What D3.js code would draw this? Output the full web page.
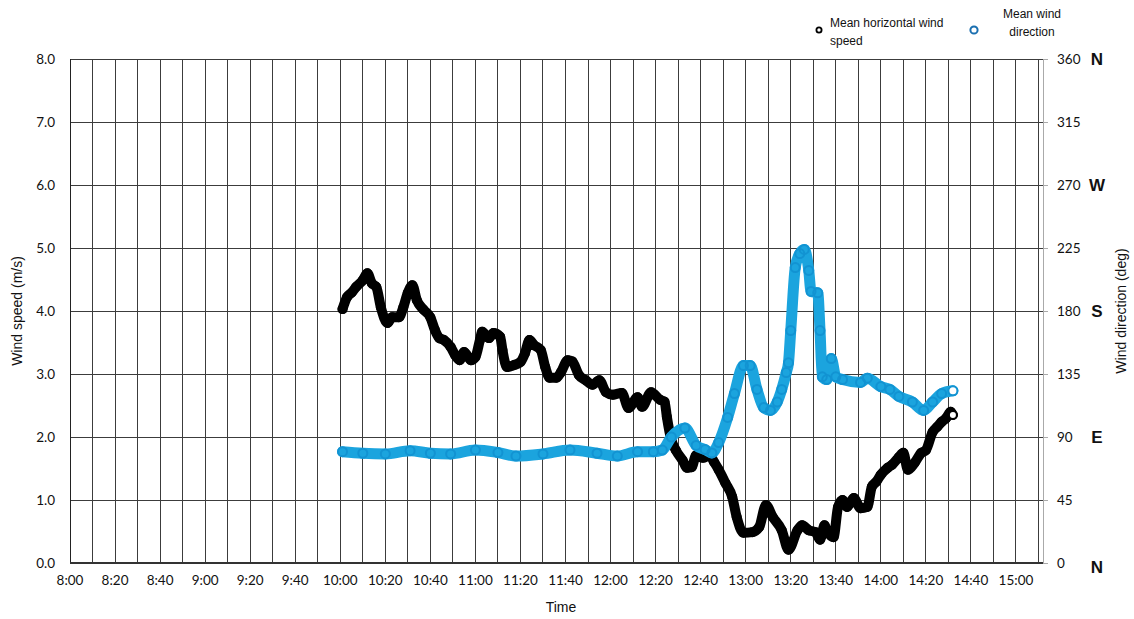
<!DOCTYPE html>
<html>
<head>
<meta charset="utf-8">
<script src="https://cdn.jsdelivr.net/npm/d3@7"></script>
<style>
  html, body { margin: 0; padding: 0; background: #fff; }
  svg { display: block; }
  .tick-lbl { font-family: Lato, "Open Sans", sans-serif; font-size: 13.5px; fill: #111; }
  .title { font-family: "Liberation Sans", Arial, sans-serif; font-size: 14px; fill: #111; }
  .legend { font-family: "Liberation Sans", Arial, sans-serif; font-size: 12px; fill: #111; }
  .compass { font-family: "Liberation Sans", Arial, sans-serif; font-size: 17px; font-weight: bold; fill: #111; }
</style>
</head>
<body>
<svg id="chart" width="1134" height="619"></svg>
<script>
// Mean horizontal wind speed (m/s)
const speedTimes = ["10:01","10:03","10:05","10:07","10:10","10:12","10:14","10:16","10:18","10:21",
  "10:23","10:26","10:28","10:30","10:32","10:34","10:37","10:40","10:42","10:44",
  "10:46","10:49","10:51","10:53","10:55","10:58","11:00","11:02","11:03","11:06",
  "11:08","11:11","11:12","11:14","11:17","11:20","11:22","11:24","11:26","11:29",
  "11:31","11:33","11:36","11:38","11:41","11:43","11:46","11:49","11:52","11:55",
  "11:58","12:01","12:05","12:08","12:12","12:14","12:18","12:22","12:24","12:25",
  "12:27","12:29","12:32","12:34","12:36","12:38","12:41","12:44","12:46","12:48",
  "12:51","12:54","12:56","12:59","13:03","13:06","13:09","13:12","13:16","13:19",
  "13:23","13:25","13:28","13:31","13:33","13:35","13:36","13:39","13:41","13:43",
  "13:45","13:48","13:51","13:54","13:56","13:58","14:00","14:03","14:05","14:08",
  "14:10","14:12","14:15","14:18","14:20","14:23","14:25","14:27","14:29","14:31","14:32"];
const speedValues = [4.03,4.22,4.29,4.38,4.49,4.60,4.44,4.38,4.06,3.81,
  3.90,3.90,4.06,4.29,4.41,4.17,4.02,3.90,3.70,3.57,
  3.54,3.43,3.30,3.22,3.35,3.22,3.27,3.54,3.67,3.57,
  3.65,3.59,3.38,3.11,3.14,3.19,3.33,3.54,3.46,3.38,
  3.11,2.94,2.94,3.03,3.22,3.20,2.98,2.90,2.83,2.90,
  2.71,2.67,2.70,2.46,2.63,2.48,2.71,2.59,2.56,2.32,
  1.95,1.79,1.63,1.51,1.52,1.71,1.67,1.71,1.60,1.48,
  1.27,1.05,0.73,0.48,0.49,0.57,0.92,0.73,0.52,0.21,
  0.52,0.60,0.52,0.49,0.37,0.60,0.52,0.41,0.89,1.00,
  0.89,1.03,0.87,0.89,1.21,1.29,1.40,1.51,1.56,1.68,
  1.75,1.48,1.59,1.75,1.79,2.08,2.16,2.24,2.30,2.40,2.35];

// Mean wind direction (deg)
const dirTimes = ["10:01","10:10","10:20","10:31","10:40","10:49","11:00","11:10","11:18","11:30",
  "11:42","11:54","12:03","12:12","12:19","12:23","12:27","12:33","12:38","12:42",
  "12:45","12:48","12:52","12:55","12:59","13:02","13:05","13:08","13:11","13:14",
  "13:16","13:18","13:19","13:20","13:22","13:24","13:26","13:28","13:29","13:32",
  "13:33","13:34","13:36","13:38","13:40","13:43","13:51","13:54","14:00","14:04",
  "14:08","14:14","14:19","14:23","14:27","14:32"];
const dirValues = [79.5,78.4,77.9,80.2,78.4,77.9,80.7,78.9,76.4,77.9,
  80.7,78.4,76.4,79.5,79.5,80.7,90,96.4,84,81,
  78.6,86,104,121,141,141,124,111,109,115,
  124,136,143,166,211,221,224,209,194,193,
  166,133,131,146,133,131,129,132,126,124,
  119,115,109,115,121,123];

// Axis ticks
const speedTicks = [0,1,2,3,4,5,6,7,8];
const dirTicks = [0,45,90,135,180,225,270,315,360];
const compassLabels = [[0,"N"],[90,"E"],[180,"S"],[270,"W"],[360,"N"]];
const timeLabels = ["8:00","8:20","8:40","9:00","9:20","9:40","10:00","10:20","10:40","11:00",
  "11:20","11:40","12:00","12:20","12:40","13:00","13:20","13:40","14:00","14:20","14:40","15:00"];

const parseT = s => { const [h, m] = s.split(":").map(Number); return new Date(2000, 0, 1, h, m); };

const svg = d3.select("#chart");
const L = 70, R = 1043, T = 59, B = 563;

const x = d3.scaleTime().domain([parseT("8:00"), parseT("15:12")]).range([L, R]);
const yS = d3.scaleLinear().domain([0, 8]).range([B, T]);
const yD = d3.scaleLinear().domain([0, 360]).range([B, T]);

// Grid: vertical line every 10 minutes, horizontal line every 1 m/s
const grid = svg.append("g").attr("shape-rendering", "crispEdges");
const vLines = d3.timeMinute.every(10).range(parseT("8:10"), parseT("15:11"));
grid.selectAll("line.v").data(vLines).join("line")
  .attr("x1", d => x(d)).attr("x2", d => x(d))
  .attr("y1", T).attr("y2", B)
  .attr("stroke", "#3c3c3c").attr("stroke-width", 1);
grid.selectAll("line.h").data(speedTicks.slice(1)).join("line")
  .attr("x1", L).attr("x2", R)
  .attr("y1", d => yS(d)).attr("y2", d => yS(d))
  .attr("stroke", "#3c3c3c").attr("stroke-width", 1);
// Right axis outward ticks
grid.selectAll("line.rt").data(dirTicks).join("line")
  .attr("x1", R).attr("x2", R + 5)
  .attr("y1", d => yD(d)).attr("y2", d => yD(d))
  .attr("stroke", "#aaa").attr("stroke-width", 1);
// Frame
grid.append("line").attr("x1", R).attr("x2", R).attr("y1", T).attr("y2", B).attr("stroke", "#aaa");
grid.append("line").attr("x1", L).attr("x2", L).attr("y1", T).attr("y2", B).attr("stroke", "#222");
grid.append("line").attr("x1", L).attr("x2", R).attr("y1", B).attr("y2", B).attr("stroke", "#333").attr("stroke-width", 1.5);

// Left tick labels
svg.append("g").selectAll("text").data(speedTicks).join("text")
  .attr("class", "tick-lbl")
  .attr("x", 55).attr("y", d => yS(d)).attr("dy", "0.35em")
  .attr("text-anchor", "end")
  .text(d => d.toFixed(1));

// Right tick labels
svg.append("g").selectAll("text").data(dirTicks).join("text")
  .attr("class", "tick-lbl")
  .attr("x", 1057).attr("y", d => yD(d)).attr("dy", "0.35em")
  .text(d => d);
svg.append("g").selectAll("text").data(compassLabels).join("text")
  .attr("class", "compass")
  .attr("x", 1097).attr("y", d => yD(d[0]) + (d[0] === 0 ? 4 : 0)).attr("dy", "0.36em")
  .attr("text-anchor", "middle")
  .text(d => d[1]);

// Bottom tick labels
svg.append("g").selectAll("text").data(timeLabels).join("text")
  .attr("class", "tick-lbl")
  .attr("x", d => x(parseT(d))).attr("y", 585)
  .attr("text-anchor", "middle")
  .text(d => d);

// Axis titles
svg.append("text").attr("class", "title")
  .attr("transform", `translate(22,${(T + B) / 2}) rotate(-90)`)
  .attr("text-anchor", "middle").text("Wind speed (m/s)");
svg.append("text").attr("class", "title")
  .attr("transform", `translate(1126,${(T + B) / 2}) rotate(-90)`)
  .attr("text-anchor", "middle").text("Wind direction (deg)");
svg.append("text").attr("class", "title")
  .attr("x", 561).attr("y", 612).attr("text-anchor", "middle").text("Time");

// Series
const speedData = speedTimes.map((t, i) => ({ t: parseT(t), v: speedValues[i] }));
const dirData = dirTimes.map((t, i) => ({ t: parseT(t), v: dirValues[i] }));

function drawSeries(data, yScale, lineColor, markColor, width) {
  const g = svg.append("g");
  const line = d3.line().x(d => x(d.t)).y(d => yScale(d.v)).curve(d3.curveMonotoneX);
  g.append("path").datum(data).attr("d", line)
    .attr("fill", "none").attr("stroke", lineColor)
    .attr("stroke-width", width).attr("stroke-linejoin", "round").attr("stroke-linecap", "round");
  g.selectAll("circle").data(data).join("circle")
    .attr("cx", d => x(d.t)).attr("cy", d => yScale(d.v)).attr("r", width / 2 - 1)
    .attr("fill", (d, i) => i === data.length - 1 ? "#fff" : "none")
    .attr("stroke", markColor).attr("stroke-width", 2);
}
drawSeries(speedData, yS, "#000", "#000", 10);
drawSeries(dirData, yD, "#1ba4de", "#1293d2", 11);

// Legend
const lg = svg.append("g");
lg.append("circle").attr("cx", 819).attr("cy", 30).attr("r", 2.6)
  .attr("fill", "#fff").attr("stroke", "#000").attr("stroke-width", 1.8);
lg.append("text").attr("class", "legend").attr("x", 830).attr("y", 27).text("Mean horizontal wind");
lg.append("text").attr("class", "legend").attr("x", 830).attr("y", 45).text("speed");
lg.append("circle").attr("cx", 974).attr("cy", 30).attr("r", 3.6)
  .attr("fill", "#fff").attr("stroke", "#1a6fb0").attr("stroke-width", 2);
lg.append("text").attr("class", "legend").attr("x", 1032).attr("y", 18).attr("text-anchor", "middle").text("Mean wind");
lg.append("text").attr("class", "legend").attr("x", 1032).attr("y", 36).attr("text-anchor", "middle").text("direction");
</script>
</body>
</html>
